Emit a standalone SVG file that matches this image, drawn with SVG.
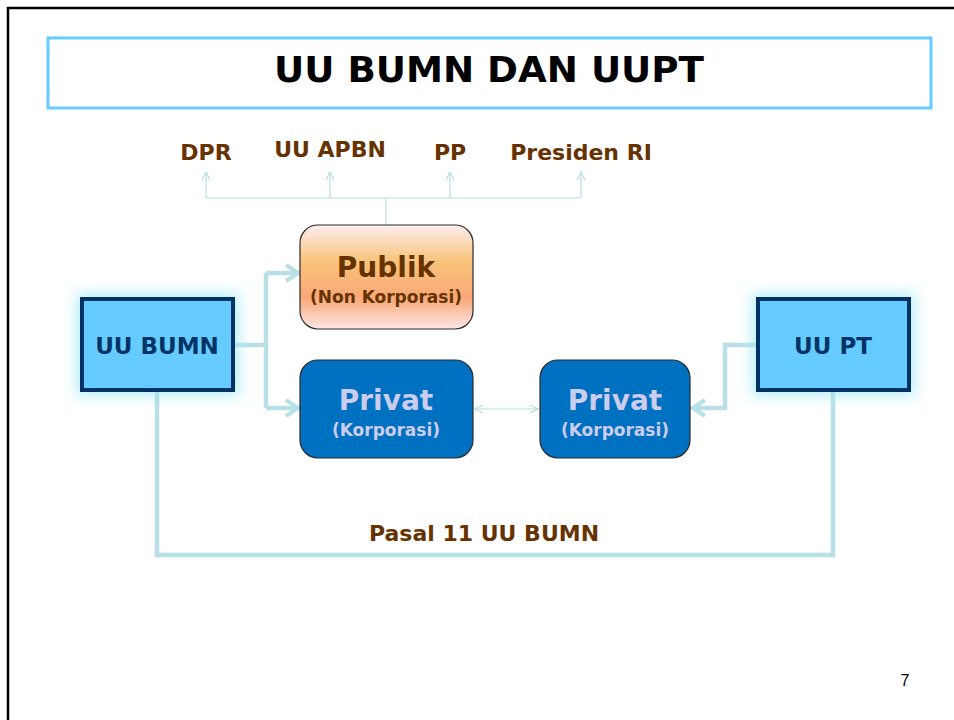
<svg xmlns="http://www.w3.org/2000/svg" width="954" height="720" viewBox="0 0 954 720">
<defs>
<linearGradient id="pub" x1="0" y1="0" x2="0" y2="1">
<stop offset="0" stop-color="#FDEEF0"/>
<stop offset="0.35" stop-color="#F9C37A"/>
<stop offset="0.7" stop-color="#F9A878"/>
<stop offset="1" stop-color="#FDE6E6"/>
</linearGradient>
<filter id="glow" x="-40%" y="-40%" width="180%" height="180%">
<feMorphology in="SourceAlpha" operator="dilate" radius="4" result="d"/>
<feGaussianBlur in="d" stdDeviation="7" result="b"/>
<feFlood flood-color="#9EEAF6" flood-opacity="0.75"/>
<feComposite operator="in" in2="b"/>
<feMerge><feMergeNode/><feMergeNode in="SourceGraphic"/></feMerge>
</filter>
<marker id="thin" markerWidth="10" markerHeight="10" refX="9" refY="5" orient="auto-start-reverse" markerUnits="userSpaceOnUse">
<path d="M1,1 L9,5 L1,9" fill="none" stroke="#B8DEE4" stroke-width="1.2"/>
</marker>
<marker id="thick" markerWidth="20" markerHeight="20" refX="17" refY="10" orient="auto" markerUnits="userSpaceOnUse">
<path d="M5,2 L17,10 L5,18" fill="none" stroke="#B8E0E6" stroke-width="4"/>
</marker>
</defs>
<style>
.lbl{font-family:"Century Gothic","DejaVu Sans","Liberation Sans",sans-serif;font-weight:bold;fill:#663300}
.thinline{fill:none;stroke:#B8DEE4;stroke-width:1.2}
.thickline{fill:none;stroke:#B8E0E6;stroke-width:4.5}
.law{fill:#66CCFF;stroke:#003366;stroke-width:4}
.lawtxt{font-family:"DejaVu Sans","Liberation Sans",sans-serif;font-weight:bold;font-size:23px;fill:#003366}
.priv{fill:#0070C0;stroke:#2A2A2A;stroke-width:1.2}
.privtxt{font-family:"DejaVu Sans","Liberation Sans",sans-serif;font-weight:bold;fill:#CCCCEE}
</style>
<rect width="954" height="720" fill="#FFFFFF"/>
<path d="M8,720 L8,8 L954,8" fill="none" stroke="#000" stroke-width="2.5"/>

<g id="title">
<rect x="48" y="38" width="883" height="70" fill="#FFFFFF" stroke="#66CCFF" stroke-width="3"/>
<text x="489" y="82" text-anchor="middle" font-family="DejaVu Sans, Liberation Sans, sans-serif" font-weight="bold" font-size="36" textLength="430" lengthAdjust="spacingAndGlyphs" fill="#000">UU BUMN DAN UUPT</text>
</g>

<g id="connectors">
<path class="thinline" d="M386,225 L386,198"/>
<path class="thinline" d="M206,198 L581,198"/>
<path class="thinline" d="M206,198 L206,172" marker-end="url(#thin)"/>
<path class="thinline" d="M330,198 L330,172" marker-end="url(#thin)"/>
<path class="thinline" d="M450,198 L450,172" marker-end="url(#thin)"/>
<path class="thinline" d="M581,198 L581,172" marker-end="url(#thin)"/>
<path class="thinline" d="M475,409 L538,409" marker-start="url(#thin)" marker-end="url(#thin)"/>
<path class="thickline" d="M234,345 L266,345"/>
<path class="thickline" d="M266,273 L266,408"/>
<path class="thickline" d="M266,273 L298,273" marker-end="url(#thick)"/>
<path class="thickline" d="M266,408 L298,408" marker-end="url(#thick)"/>
<path class="thickline" d="M757,345 L725,345 L725,408 L693,408" marker-end="url(#thick)"/>
<path class="thickline" d="M157,392 L157,555 L833,555 L833,392"/>
</g>

<g id="dpr"><text class="lbl" x="206" y="160" font-size="22" text-anchor="middle">DPR</text></g>
<g id="uuapbn"><text class="lbl" x="330" y="157" font-size="22" text-anchor="middle">UU APBN</text></g>
<g id="pp"><text class="lbl" x="450" y="160" font-size="22" text-anchor="middle">PP</text></g>
<g id="presiden"><text class="lbl" x="581" y="160" font-size="22" text-anchor="middle">Presiden RI</text></g>

<g id="publik">
<rect x="300" y="225" width="173" height="104" rx="18" fill="url(#pub)" stroke="#2A2A2A" stroke-width="1.2"/>
<text class="lbl" x="386" y="277" font-size="28" text-anchor="middle">Publik</text>
<text class="lbl" x="386" y="303" font-size="17" text-anchor="middle">(Non Korporasi)</text>
</g>

<g id="privat1">
<rect class="priv" x="300" y="360" width="173" height="98" rx="18"/>
<text class="privtxt" x="386" y="410" font-size="28" text-anchor="middle">Privat</text>
<text class="privtxt" x="386" y="436" font-size="17" text-anchor="middle">(Korporasi)</text>
</g>

<g id="privat2">
<rect class="priv" x="540" y="360" width="150" height="98" rx="18"/>
<text class="privtxt" x="615" y="410" font-size="28" text-anchor="middle">Privat</text>
<text class="privtxt" x="615" y="436" font-size="17" text-anchor="middle">(Korporasi)</text>
</g>

<g id="uubumn">
<rect class="law" x="82" y="299" width="151" height="91" filter="url(#glow)"/>
<text class="lawtxt" x="157" y="354" text-anchor="middle">UU BUMN</text>
</g>

<g id="uupt">
<rect class="law" x="758" y="299" width="151" height="91" filter="url(#glow)"/>
<text class="lawtxt" x="833" y="354" text-anchor="middle">UU PT</text>
</g>

<g id="pasal">
<text class="lbl" x="484" y="541" font-size="22" text-anchor="middle">Pasal 11 UU BUMN</text>
</g>

<g id="pagenum">
<text x="905" y="686" font-family="Liberation Sans, Arial, sans-serif" font-size="16" text-anchor="middle" fill="#000">7</text>
</g>
</svg>
